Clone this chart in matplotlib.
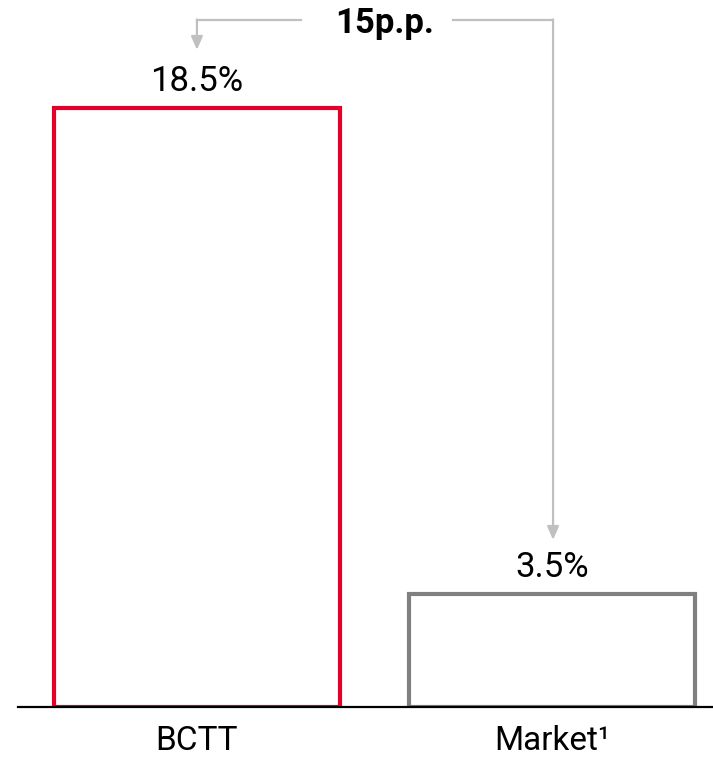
import numpy as np
import matplotlib.pyplot as plt

plt.rcParams['font.family'] = ['Roboto', 'DejaVu Sans']

categories = ['BCTT', 'Market¹']
values = [18.5, 3.5]
value_labels = ['18.5%', '3.5%']
edge_colors = ['#E4002B', '#808080']

fig = plt.figure(figsize=(7.13, 7.6), dpi=100)
ax = fig.add_axes([18/713, 53/760, 695/713, 707/760])
x = np.arange(len(categories))

ax.bar(x, values, width=0.806, facecolor='white', edgecolor=edge_colors, linewidth=3)
for xi, v, lab in zip(x, values, value_labels):
    ax.text(xi, v + 0.3, lab, ha='center', va='bottom', fontsize=25)

ax.set_xlim(-0.504, 1.4535)
ax.set_ylim(0, 21.83)
ax.axhline(0, color='black', lw=1.6, clip_on=False)
for s in ax.spines.values():
    s.set_visible(False)
ax.set_yticks([])
ax.set_xticks(x)
ax.set_xticklabels(categories, fontsize=24)
ax.tick_params(axis='x', length=0, pad=13)

# difference bracket
ytop = 21.2
gray = '#C0C0C0'
diff = values[0] - values[1]
ax.text(0.53, ytop - 0.1, f'{diff:.0f}p.p.', ha='center', va='center', fontsize=25,
        fontweight='bold', clip_on=False)
ax.plot([x[0], 0.292], [ytop, ytop], color=gray, lw=1.6, clip_on=False)
ax.plot([0.72, x[1] + 0.003], [ytop, ytop], color=gray, lw=1.6, clip_on=False)
ax.annotate('', xy=(x[0], values[0] + 1.79), xytext=(x[0], ytop + 0.03),
            arrowprops=dict(arrowstyle='-|>,head_length=0.8,head_width=0.35',
                            color=gray, lw=1.6, shrinkA=0, shrinkB=0))
ax.annotate('', xy=(x[1] + 0.003, values[1] + 1.66), xytext=(x[1] + 0.003, ytop + 0.03),
            arrowprops=dict(arrowstyle='-|>,head_length=0.8,head_width=0.35',
                            color=gray, lw=1.6, shrinkA=0, shrinkB=0))

fig.savefig('out.png', dpi=100)
